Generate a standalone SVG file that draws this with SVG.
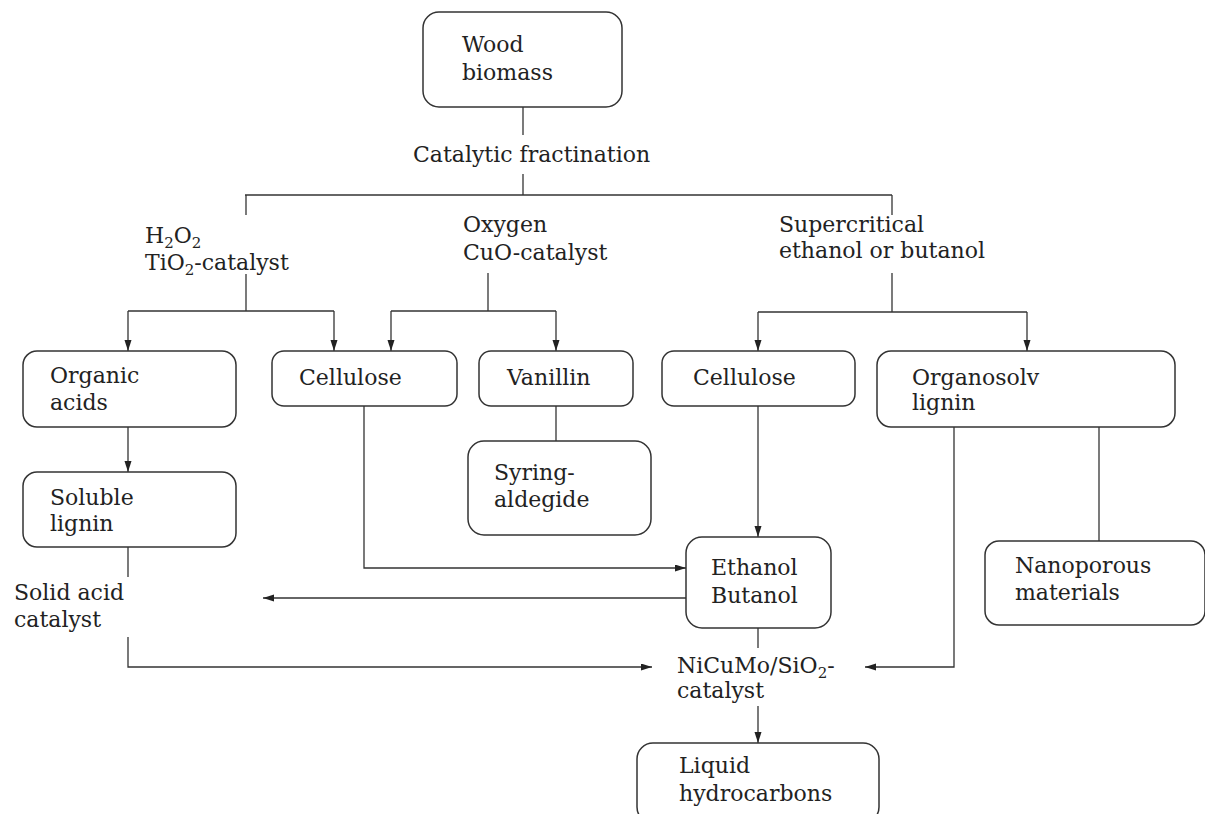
<svg xmlns="http://www.w3.org/2000/svg" width="1205" height="814" viewBox="0 0 1205 814">
<defs>
<style>
.box{fill:#fff;stroke:#333;stroke-width:1.5}
.ln{fill:none;stroke:#333;stroke-width:1.3}
.ar{fill:none;stroke:#333;stroke-width:1.3;marker-end:url(#ah)}
text{font-family:"DejaVu Serif","Liberation Serif",serif;font-size:22px;fill:#222}
.sub{font-size:15px}
</style>
<marker id="ah" markerUnits="userSpaceOnUse" markerWidth="12" markerHeight="8" refX="11" refY="3.5" orient="auto">
<path d="M0,0 L11,3.5 L0,7 z" fill="#222"/>
</marker>
</defs>
<rect width="1205" height="814" fill="#fff"/>
<g id="connectors">
<line class="ln" x1="523" y1="107" x2="523" y2="135"/>
<line class="ln" x1="523" y1="174" x2="523" y2="195"/>
<line class="ln" x1="245" y1="195" x2="892" y2="195"/>
<line class="ln" x1="246" y1="195" x2="246" y2="215"/>
<line class="ln" x1="892" y1="195" x2="892" y2="215"/>
<line class="ln" x1="246" y1="274" x2="246" y2="311"/>
<line class="ln" x1="128" y1="311" x2="334" y2="311"/>
<line class="ar" x1="128" y1="311" x2="128" y2="351"/>
<line class="ar" x1="334" y1="311" x2="334" y2="351"/>
<line class="ln" x1="488" y1="273" x2="488" y2="311"/>
<line class="ln" x1="391" y1="311" x2="556" y2="311"/>
<line class="ar" x1="391" y1="311" x2="391" y2="351"/>
<line class="ar" x1="556" y1="311" x2="556" y2="351"/>
<line class="ln" x1="892" y1="273" x2="892" y2="312"/>
<line class="ln" x1="758" y1="312" x2="1027" y2="312"/>
<line class="ar" x1="758" y1="312" x2="758" y2="351"/>
<line class="ar" x1="1027" y1="312" x2="1027" y2="351"/>
<line class="ar" x1="128" y1="427" x2="128" y2="472"/>
<line class="ln" x1="556" y1="406" x2="556" y2="441"/>
<line class="ar" x1="758" y1="406" x2="758" y2="537"/>
<path class="ar" d="M364,406 V568 H686"/>
<line class="ar" x1="686" y1="598" x2="263" y2="598"/>
<line class="ln" x1="128" y1="547" x2="128" y2="577"/>
<path class="ar" d="M128,637 V667 H652"/>
<line class="ln" x1="758" y1="628" x2="758" y2="648"/>
<line class="ar" x1="758" y1="706" x2="758" y2="743"/>
<path class="ar" d="M954,427 V667 H865"/>
<line class="ln" x1="1099" y1="427" x2="1099" y2="541"/>
</g>
<g id="wood">
<rect class="box" x="423" y="12" width="199" height="95" rx="16"/>
<text x="462" y="52">Wood</text>
<text x="462" y="80">biomass</text>
</g>
<g id="label-catalytic"><text x="413" y="162">Catalytic fractination</text></g>
<g id="label-h2o2">
<text x="145" y="243">H<tspan class="sub" dy="5">2</tspan><tspan dy="-5">O</tspan><tspan class="sub" dy="5">2</tspan></text>
<text x="145" y="270">TiO<tspan class="sub" dy="5">2</tspan><tspan dy="-5">-catalyst</tspan></text>
</g>
<g id="label-oxygen">
<text x="463" y="232">Oxygen</text>
<text x="463" y="260">CuO-catalyst</text>
</g>
<g id="label-supercritical">
<text x="779" y="232">Supercritical</text>
<text x="779" y="258">ethanol or butanol</text>
</g>
<g id="organic-acids">
<rect class="box" x="23" y="351" width="213" height="76" rx="14"/>
<text x="50" y="383">Organic</text>
<text x="50" y="410">acids</text>
</g>
<g id="cellulose-1">
<rect class="box" x="272" y="351" width="185" height="55" rx="12"/>
<text x="299" y="385">Cellulose</text>
</g>
<g id="vanillin">
<rect class="box" x="479" y="351" width="154" height="55" rx="12"/>
<text x="507" y="385">Vanillin</text>
</g>
<g id="cellulose-2">
<rect class="box" x="662" y="351" width="193" height="55" rx="12"/>
<text x="693" y="385">Cellulose</text>
</g>
<g id="organosolv">
<rect class="box" x="877" y="351" width="298" height="76" rx="14"/>
<text x="912" y="385">Organosolv</text>
<text x="912" y="410">lignin</text>
</g>
<g id="soluble-lignin">
<rect class="box" x="23" y="472" width="213" height="75" rx="14"/>
<text x="50" y="505">Soluble</text>
<text x="50" y="531">lignin</text>
</g>
<g id="syringaldegide">
<rect class="box" x="468" y="441" width="183" height="94" rx="16"/>
<text x="494" y="480">Syring-</text>
<text x="494" y="507">aldegide</text>
</g>
<g id="ethanol-butanol">
<rect class="box" x="686" y="537" width="145" height="91" rx="16"/>
<text x="711" y="575">Ethanol</text>
<text x="711" y="603">Butanol</text>
</g>
<g id="nanoporous">
<rect class="box" x="985" y="541" width="220" height="84" rx="14"/>
<text x="1015" y="573">Nanoporous</text>
<text x="1015" y="600">materials</text>
</g>
<g id="label-solid-acid">
<text x="14" y="600">Solid acid</text>
<text x="14" y="627">catalyst</text>
</g>
<g id="label-nicumo">
<text x="677" y="673">NiCuMo/SiO<tspan class="sub" dy="5">2</tspan><tspan dy="-5">-</tspan></text>
<text x="677" y="698">catalyst</text>
</g>
<g id="liquid-hydrocarbons">
<rect class="box" x="637" y="743" width="242" height="80" rx="16"/>
<text x="679" y="773">Liquid</text>
<text x="679" y="801">hydrocarbons</text>
</g>
</svg>
